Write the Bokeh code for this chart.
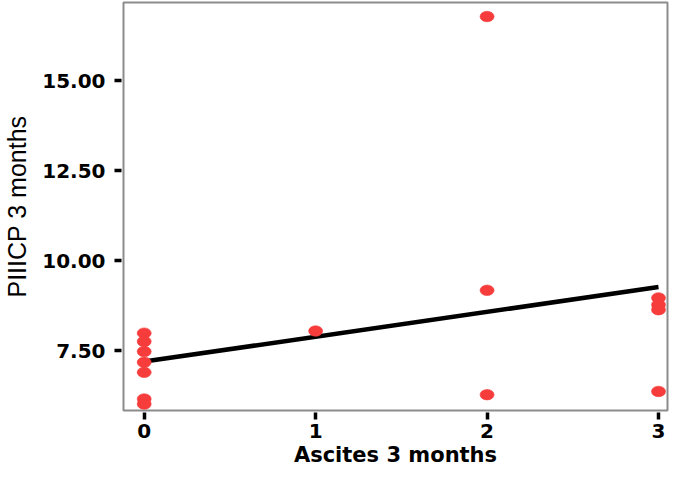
from bokeh.plotting import figure
from bokeh.models import Range1d, FixedTicker
from bokeh.embed import file_html
from bokeh.resources import INLINE

# Data
ascites = [0, 0, 0, 0, 0, 0, 0, 1, 2, 2, 2, 3, 3, 3, 3]
piiicp = [7.99, 7.76, 7.48, 7.18, 6.90, 6.16, 6.02, 8.05, 16.79, 9.18, 6.28, 8.97, 8.78, 8.64, 6.37]
fit_intercept = 7.20
fit_slope = 0.69
x_ticks = [0, 1, 2, 3]
y_ticks = [7.5, 10.0, 12.5, 15.0]
y_tick_labels = {7.5: "7.50", 10.0: "10.00", 12.5: "12.50", 15.0: "15.00"}

p = figure(width=669, height=470, output_backend="svg", toolbar_location=None,
           x_range=Range1d(-0.1207, 3.0525), y_range=Range1d(5.84, 17.18),
           min_border_left=123, min_border_right=2, min_border_top=2, min_border_bottom=60)

p.xgrid.visible = False
p.ygrid.visible = False
p.outline_line_color = "#8c8c8c"
p.outline_line_width = 2
p.background_fill_color = "white"
p.border_fill_color = "white"

fx = [min(ascites), max(ascites)]
fy = [fit_intercept + fit_slope * v for v in fx]
p.line(fx, fy, line_color="black", line_width=4.5)

p.ellipse(x=ascites, y=piiicp, width=14, height=10.5, width_units="screen", height_units="screen",
          fill_color="#f73c3c", line_color="#f73c3c", line_alpha=0.6)

p.xaxis.ticker = FixedTicker(ticks=x_ticks)
p.yaxis.ticker = FixedTicker(ticks=y_ticks)
p.yaxis.major_label_overrides = y_tick_labels

for ax in (p.xaxis[0], p.yaxis[0]):
    ax.axis_line_color = None
    ax.major_tick_line_color = "black"
    ax.major_tick_line_width = 3.5
    ax.major_tick_out = 9
    ax.major_tick_in = -2
    ax.minor_tick_line_color = None
    ax.major_label_text_font = "DejaVu Sans"
    ax.major_label_text_font_style = "bold"
    ax.major_label_text_font_size = "20px"
    ax.major_label_text_color = "black"
    ax.axis_label_text_color = "black"

p.xaxis.major_label_standoff = 4
p.yaxis.major_label_standoff = 9

p.xaxis.axis_label = "Ascites 3 months"
p.xaxis.axis_label_text_font = "DejaVu Sans"
p.xaxis.axis_label_text_font_style = "bold"
p.xaxis.axis_label_text_font_size = "21px"
p.xaxis.axis_label_standoff = 2

p.yaxis.axis_label = "PIIICP 3 months"
p.yaxis.axis_label_text_font = "Liberation Sans"
p.yaxis.axis_label_text_font_style = "normal"
p.yaxis.axis_label_text_font_size = "25px"
p.yaxis.axis_label_standoff = 8

open("out.html", "w").write(file_html(p, INLINE))
